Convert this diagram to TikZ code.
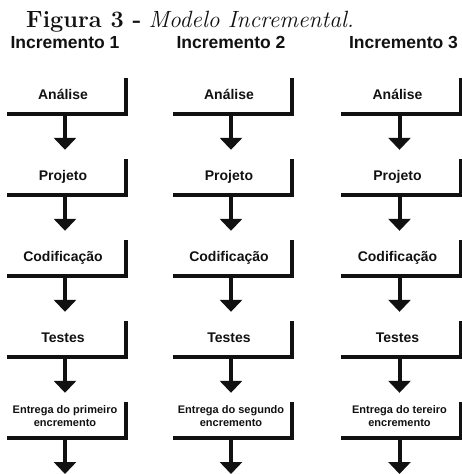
\documentclass[tikz,border=0pt]{standalone}
\usepackage{fontspec}
\setsansfont{Liberation Sans}
\usetikzlibrary{arrows.meta,positioning}
\definecolor{ipreto}{HTML}{111111}

\tikzset{
 cabec/.style={anchor=base, inner sep=0pt, font=\sffamily\bfseries\fontsize{17.5}{20}\selectfont, text=ipreto},
 etapa/.style={minimum width=119pt, minimum height=36pt, inner sep=0pt},
 rotulo/.style={inner sep=0pt, xshift=-3.5pt, yshift=0.5pt, text height=10pt, text depth=3pt,
  font=\sffamily\bfseries\fontsize{14}{16}\selectfont, text=ipreto},
 rotulo2/.style={inner sep=0pt, xshift=-1.5pt, yshift=4pt, align=center,
  font=\sffamily\bfseries\fontsize{11}{13}\selectfont, text=ipreto},
 suporte/.style={draw=ipreto, line width=4pt},
 seta/.style={draw=ipreto, line width=4pt, -{Triangle[length=12pt,width=22pt]}},
}

\begin{document}
\begin{tikzpicture}[x=1pt,y=-1pt]
 \useasboundingbox (0,0) rectangle (461,474);
 \node[anchor=base west, inner sep=0pt, font=\fontsize{23.5}{28}\selectfont, text=ipreto] (titulo) at (26,27)
  {\textbf{Figura 3 -} \textit{Modelo Incremental.}};
 \foreach \c/\x/\xc/\ord in {1/66.5/65/primeiro, 2/232.5/231/segundo, 3/401/403.5/tereiro}{
  \node[cabec] (inc\c) at (\xc,48) {Incremento \c};
  \foreach \e/\t [count=\k] in {an/Análise, pj/Projeto, cd/Codificação, ts/Testes}{
   \pgfmathsetmacro\yb{114+81*(\k-1)-18}
   \node[etapa, label={[rotulo]center:\t}] (\e\c) at (\x,\yb) {};
   \draw[suporte] (\e\c.south west) -- (\e\c.south east) -- (\e\c.north east);
  }
  \node[etapa, label={[rotulo2]center:{Entrega do \ord\\encremento}}] (en\c) at (\x,420) {};
  \draw[suporte] (en\c.south west) -- (en\c.south east) -- (en\c.north east);
  % setas entre as etapas
  \draw[seta] ([xshift=-1.5pt]an\c.south) -- ([xshift=-1.5pt,yshift=9pt]pj\c.north);
  \draw[seta] ([xshift=-1.5pt]pj\c.south) -- ([xshift=-1.5pt,yshift=9pt]cd\c.north);
  \draw[seta] ([xshift=-1.5pt]cd\c.south) -- ([xshift=-1.5pt,yshift=9pt]ts\c.north);
  \draw[seta] ([xshift=-1.5pt]ts\c.south) -- ([xshift=-1.5pt,yshift=9pt]en\c.north);
  \coordinate (fim\c) at (\x-1.5,474);
  \draw[seta] ([xshift=-1.5pt]en\c.south) -- (fim\c);
 }
\end{tikzpicture}
\end{document}
